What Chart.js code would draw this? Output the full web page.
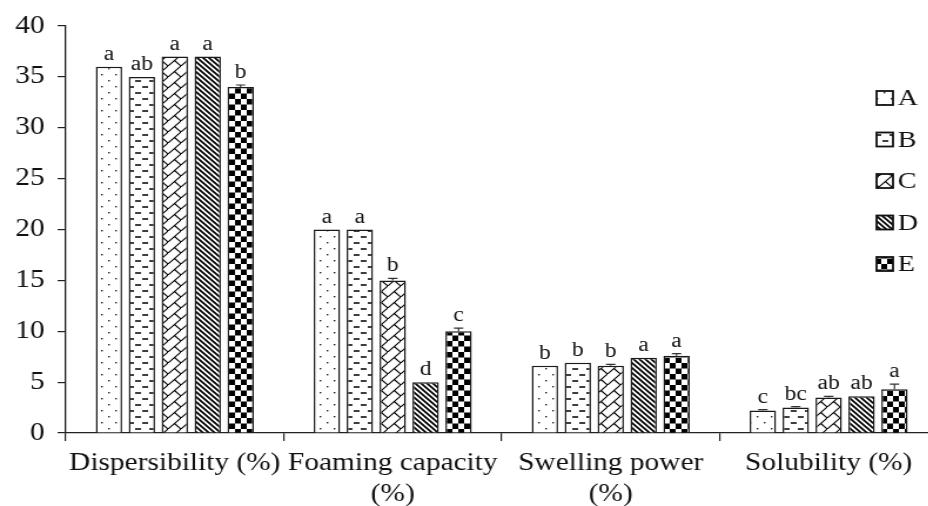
<!DOCTYPE html>
<html>
<head>
<meta charset="utf-8">
<script src="https://cdn.jsdelivr.net/npm/chart.js@4.4.1/dist/chart.umd.min.js"></script>
<style>
  html, body { margin: 0; padding: 0; background: #fff; overflow: hidden; }
  #chart { display: block; }
</style>
</head>
<body>
<!-- drawn narrow, then stretched sideways like the original figure -->
<canvas id="chart" width="800" height="506" style="width:940px;height:506px"></canvas>
<script>
const categories = [
  'Dispersibility (%)',
  ['Foaming capacity', '(%)'],
  ['Swelling power', '(%)'],
  'Solubility (%)'
];
const seriesNames = ['A', 'B', 'C', 'D', 'E'];

const valuesA = [36, 20, 6.6, 2.2];
const valuesB = [35, 20, 6.9, 2.5];
const valuesC = [37, 15, 6.6, 3.5];
const valuesD = [37, 5, 7.4, 3.6];
const valuesE = [34, 10, 7.6, 4.3];

const errorsA = [0, 0, 0, 0.1];
const errorsB = [0, 0, 0, 0.1];
const errorsC = [0, 0.2, 0.15, 0.1];
const errorsD = [0, 0, 0, 0];
const errorsE = [0.2, 0.3, 0.2, 0.5];

const lettersA = ['a', 'a', 'b', 'c'];
const lettersB = ['ab', 'a', 'b', 'bc'];
const lettersC = ['a', 'b', 'b', 'ab'];
const lettersD = ['a', 'd', 'a', 'ab'];
const lettersE = ['b', 'c', 'a', 'a'];

const yTicks = [0, 5, 10, 15, 20, 25, 30, 35, 40];

const SERIF = '"Liberation Serif", "Times New Roman", serif';
const INK = '#111';

// little tile makers for the black & white fills
function tile(w, h, draw) {
  const c = document.createElement('canvas');
  c.width = w; c.height = h;
  const g = c.getContext('2d');
  g.fillStyle = '#fff';
  g.fillRect(0, 0, w, h);
  g.fillStyle = '#000';
  g.strokeStyle = '#000';
  draw(g);
  return document.createElement('canvas').getContext('2d').createPattern(c, 'repeat');
}

const patDots = tile(12, 12, g => {
  g.fillStyle = '#222';
  g.fillRect(2, 2, 1.4, 1.4);
  g.fillRect(8, 8, 1.4, 1.4);
});
const patDash = tile(12, 12, g => {
  g.lineWidth = 1.5;
  g.beginPath();
  g.moveTo(1, 3); g.lineTo(6, 3);
  g.moveTo(7, 9); g.lineTo(12, 9);
  g.stroke();
});
const patBrick = tile(11, 11, g => {
  g.lineWidth = 1.1;
  g.beginPath();
  g.moveTo(-1, 12); g.lineTo(12, -1);
  g.moveTo(5.5, 5.5); g.lineTo(11, 11);
  g.stroke();
});
const patStripe = tile(5, 5, g => {
  g.lineWidth = 1.7;
  g.beginPath();
  g.moveTo(-1, -1); g.lineTo(6, 6);
  g.moveTo(-1, 4); g.lineTo(1, 6);
  g.moveTo(4, -1); g.lineTo(6, 1);
  g.stroke();
});
const patCheck = tile(10, 11, g => {
  g.fillRect(0, 0, 5, 5.5);
  g.fillRect(5, 5.5, 5, 5.5);
});

const fills = [patDots, patDash, patBrick, patStripe, patCheck];
const allValues = [valuesA, valuesB, valuesC, valuesD, valuesE];
const allErrors = [errorsA, errorsB, errorsC, errorsD, errorsE];
const allLetters = [lettersA, lettersB, lettersC, lettersD, lettersE];

const datasets = seriesNames.map((name, i) => ({
  label: name,
  data: allValues[i],
  backgroundColor: fills[i],
  borderColor: '#1a1a1a',
  borderWidth: 1.5,
  categoryPercentage: 0.755,
  barPercentage: 0.8
}));

// error caps and the significance letters on top of each bar
const barNotes = {
  id: 'barNotes',
  afterDatasetsDraw(chart) {
    const ctx = chart.ctx;
    const y = chart.scales.y;
    ctx.save();
    chart.data.datasets.forEach((ds, i) => {
      const meta = chart.getDatasetMeta(i);
      meta.data.forEach((bar, j) => {
        const v = allValues[i][j];
        const e = allErrors[i][j];
        const top = y.getPixelForValue(v + e);
        if (e > 0) {
          ctx.strokeStyle = '#333';
          ctx.lineWidth = 1.2;
          ctx.beginPath();
          ctx.moveTo(bar.x, y.getPixelForValue(v));
          ctx.lineTo(bar.x, top);
          ctx.moveTo(bar.x - 4, top);
          ctx.lineTo(bar.x + 4, top);
          ctx.stroke();
        }
        ctx.fillStyle = INK;
        ctx.font = '20px ' + SERIF;
        ctx.textAlign = 'center';
        ctx.textBaseline = 'alphabetic';
        ctx.fillText(allLetters[i][j], bar.x, top - 7);
      });
    });
    ctx.restore();
  }
};

// legend sits inside the plot on the right, one row per series
const sideLegend = {
  id: 'sideLegend',
  afterDraw(chart) {
    const ctx = chart.ctx;
    const area = chart.chartArea;
    ctx.save();
    seriesNames.forEach((name, i) => {
      const cy = area.top + 72 + i * 41.5;
      const bx = area.right - 52;
      ctx.fillStyle = fills[i];
      ctx.fillRect(bx, cy - 7, 14, 14);
      ctx.strokeStyle = '#111';
      ctx.lineWidth = 1.8;
      ctx.strokeRect(bx, cy - 7, 14, 14);
      ctx.fillStyle = INK;
      ctx.font = '24px ' + SERIF;
      ctx.textAlign = 'left';
      ctx.textBaseline = 'middle';
      ctx.fillText(name, bx + 18, cy + 1);
    });
    ctx.restore();
  }
};

new Chart(document.getElementById('chart'), {
  type: 'bar',
  data: { labels: categories, datasets: datasets },
  options: {
    responsive: false,
    animation: false,
    devicePixelRatio: 1,
    layout: { padding: { top: 25, right: 2, left: 0, bottom: 0 } },
    plugins: {
      legend: { display: false },
      tooltip: { enabled: false }
    },
    scales: {
      y: {
        min: 0,
        max: 40,
        afterBuildTicks: s => { s.ticks = yTicks.map(v => ({ value: v })); },
        afterFit: s => { s.width = 56; },
        ticks: {
          color: INK,
          padding: 11,
          font: { family: SERIF, size: 25 }
        },
        grid: {
          drawOnChartArea: false,
          drawTicks: true,
          tickLength: 7,
          color: '#222',
          lineWidth: 1.2
        },
        border: { display: true, color: '#222', width: 1.3 }
      },
      x: {
        afterFit: s => { s.height = 73; },
        ticks: {
          color: INK,
          padding: 7,
          maxRotation: 0,
          autoSkip: false,
          font: { family: SERIF, size: 25, lineHeight: 1.25 }
        },
        grid: {
          offset: true,
          drawOnChartArea: false,
          drawTicks: true,
          tickLength: 8,
          color: '#222',
          lineWidth: 1.2
        },
        border: { display: true, color: '#222', width: 1.3 }
      }
    }
  },
  plugins: [barNotes, sideLegend]
});
</script>
</body>
</html>
